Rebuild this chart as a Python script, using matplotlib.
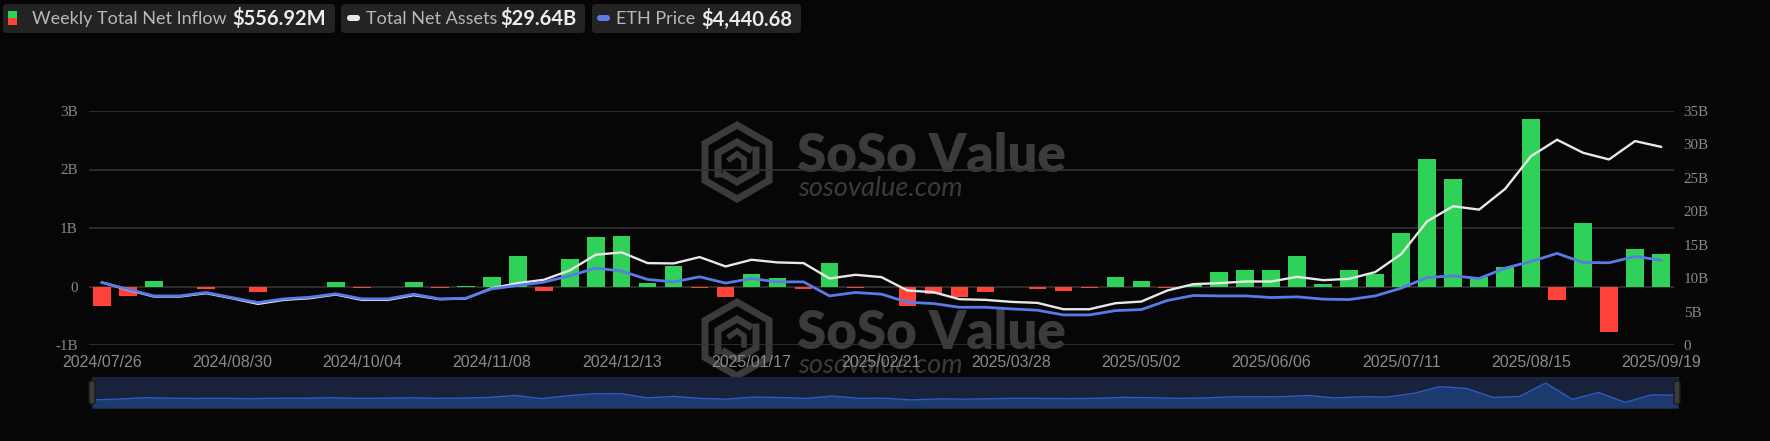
import numpy as np
import pandas as pd
import matplotlib
matplotlib.use("Agg")
import matplotlib.pyplot as plt
from matplotlib.patches import FancyBboxPatch, RegularPolygon


# ======================
# Data
# ======================

dates = pd.date_range("2024-07-26", periods=61, freq="7D")
date_labels = [d.strftime("%Y/%m/%d") for d in dates]

# weekly total net inflow, billions USD
net_inflow = [
    -0.34, -0.17, 0.10, -0.01, -0.045, -0.01, -0.09, -0.01, -0.01, 0.085,
    -0.02, -0.01, 0.08, -0.02, 0.01, 0.154, 0.514, -0.07, 0.463, 0.84,
    0.857, 0.057, 0.35, -0.03, -0.18, 0.21, 0.137, -0.04, 0.41, -0.02,
    -0.005, -0.33, -0.12, -0.18, -0.10, -0.01, -0.04, -0.08, -0.02, 0.154,
    0.10, -0.03, 0.03, 0.246, 0.286, 0.28, 0.526, 0.04, 0.28, 0.217,
    0.909, 2.18, 1.846, 0.154, 0.326, 2.857, -0.234, 1.08, -0.783, 0.634,
    0.557,
]

# total net assets, billions USD
total_net_assets = [
    9.35, 8.25, 7.25, 7.25, 7.75, 7.0, 6.15, 6.75, 7.0, 7.55,
    6.75, 6.75, 7.45, 6.85, 6.95, 8.5, 9.25, 9.75, 11.15, 13.5,
    13.85, 12.25, 12.2, 13.15, 11.75, 12.75, 12.35, 12.25, 9.95, 10.5,
    10.15, 8.15, 7.9, 6.85, 6.75, 6.45, 6.3, 5.35, 5.35, 6.25,
    6.5, 8.15, 9.1, 9.25, 9.5, 9.5, 10.2, 9.7, 9.9, 10.9,
    13.6, 18.5, 20.75, 20.25, 23.35, 28.25, 30.7, 28.75, 27.75, 30.5,
    29.64,
]

# ETH price, USD
eth_price = [
    3270, 2920, 2570, 2570, 2750, 2485, 2220, 2415, 2500, 2680,
    2415, 2415, 2660, 2415, 2450, 2940, 3115, 3290, 3620, 4025,
    3870, 3430, 3305, 3570, 3240, 3480, 3305, 3305, 2570, 2750,
    2660, 2240, 2170, 1975, 1975, 1890, 1820, 1575, 1575, 1800,
    1855, 2330, 2590, 2570, 2570, 2485, 2520, 2400, 2380, 2570,
    2975, 3535, 3620, 3480, 4025, 4375, 4795, 4320, 4305, 4635,
    4440.68,
]

left_ticks = [-1, 0, 1, 2, 3]
left_tick_labels = ["-1B", "0", "1B", "2B", "3B"]
right_ticks = [0, 5, 10, 15, 20, 25, 30, 35]
right_tick_labels = ["0", "5B", "10B", "15B", "20B", "25B", "30B", "35B"]

legend_names = ["Weekly Total Net Inflow", "Total Net Assets", "ETH Price"]
legend_values = ["$556.92M", "$29.64B", "$4,440.68"]


# ======================
# Style
# ======================

BG = "#060606"
GREEN = "#2fd158"
RED = "#ff4338"
WHITE = "#e8e8e8"
BLUE = "#5a7ae6"
GRID = "#333333"
TICK = "#8a8a8a"
MARK = "#3b3b3b"

W, H = 1770, 441


def frac(x0, y0, x1, y1):
    return [x0 / W, 1 - y1 / H, (x1 - x0) / W, (y1 - y0) / H]


fig = plt.figure(figsize=(W / 100, H / 100), dpi=100, facecolor=BG)

# background layer: legend chips and watermark
bg = fig.add_axes([0, 0, 1, 1], zorder=0)
bg.set_xlim(0, W)
bg.set_ylim(H, 0)
bg.axis("off")


def watermark(cx, cy):
    bg.add_patch(RegularPolygon((cx, cy), 6, radius=37, fill=False,
                                ec=MARK, lw=5))
    bg.plot([cx - 19, cx - 19, cx, cx + 12], [cy + 12, cy - 9, cy - 20, cy - 13],
            color=MARK, lw=5, solid_joinstyle="miter")
    bg.plot([cx + 19, cx + 19, cx, cx - 12], [cy - 12, cy + 9, cy + 20, cy + 13],
            color=MARK, lw=5, solid_joinstyle="miter")
    bg.plot([cx - 7, cx, cx + 7, cx + 7], [cy - 3, cy - 8, cy - 3, cy + 6],
            color=MARK, lw=4, solid_joinstyle="miter")
    bg.text(cx + 60, cy + 10, "SoSo Value", family="Lato", weight="heavy",
            fontsize=38, color=MARK, va="baseline", ha="left")
    bg.text(cx + 61, cy + 34, "sosovalue.com", family="Lato", style="italic",
            fontsize=19.5, color=MARK, va="baseline", ha="left")


watermark(737, 162)
watermark(737, 339)

# legend chips
chip_x = [(3, 335), (341, 585), (592, 801)]
name_x = [32, 366, 616]
value_x = [232, 500, 701]
for (x0, x1), nx, vx, name, val in zip(chip_x, name_x, value_x,
                                      legend_names, legend_values):
    bg.add_patch(FancyBboxPatch((x0, 4), x1 - x0, 29,
                                boxstyle="round,pad=0,rounding_size=4",
                                fc="#232323", ec="none"))
    bg.text(nx, 19, name, family="Lato", fontsize=13, color="#b8b8b8",
            va="center", ha="left")
    bg.text(vx, 19, val, family="Lato", weight="bold", fontsize=14.5,
            color="#ececec", va="center", ha="left")

bg.add_patch(plt.Rectangle((8, 11), 9, 7, fc=GREEN, ec="none"))
bg.add_patch(plt.Rectangle((8, 18), 9, 7, fc=RED, ec="none"))
bg.add_patch(FancyBboxPatch((347, 15), 13, 6, boxstyle="round,pad=0,rounding_size=3",
                            fc=WHITE, ec="none"))
bg.add_patch(FancyBboxPatch((597, 15), 13, 6, boxstyle="round,pad=0,rounding_size=3",
                            fc=BLUE, ec="none"))


# ======================
# Main chart
# ======================

x = np.arange(len(dates))

ax = fig.add_axes(frac(89, 111, 1674, 345), zorder=1)
ax.patch.set_alpha(0)
bar_colors = [GREEN if v >= 0 else RED for v in net_inflow]
ax.bar(x, net_inflow, width=0.68, color=bar_colors, zorder=3)
ax.set_xlim(-0.5, len(dates) - 0.5)
ax.set_ylim(-1, 3)
ax.set_yticks(left_ticks, left_tick_labels, family="Liberation Serif",
              fontsize=10.8)
ax.set_xticks(x[::5], [date_labels[i] for i in x[::5]],
              family="Liberation Sans", fontsize=11.5)
ax.grid(axis="y", color=GRID, lw=1.2)
ax.set_axisbelow(True)
ax.tick_params(axis="both", length=0, colors=TICK)
ax.tick_params(axis="y", pad=8)
ax.tick_params(axis="x", pad=7)
for s in ax.spines.values():
    s.set_visible(False)

ax2 = ax.twinx()
ax2.plot(x, total_net_assets, color=WHITE, lw=1.7, zorder=4)
ax2.set_ylim(0, 35)
ax2.set_yticks(right_ticks, right_tick_labels, family="Liberation Serif",
               fontsize=10.8)
ax2.tick_params(axis="y", length=0, colors=TICK, pad=7)
for s in ax2.spines.values():
    s.set_visible(False)

ax3 = ax.twinx()
ax3.plot(x, eth_price, color=BLUE, lw=2.0, zorder=5)
ax3.set_ylim(0, 12250)
ax3.axis("off")


# ======================
# Navigator
# ======================

nav = fig.add_axes(frac(92, 377, 1678, 408), zorder=2)
nav.set_facecolor("#18223a")
nav.fill_between(x, net_inflow, -1.85, color="#1d3a6e", lw=0)
nav.plot(x, net_inflow, color="#2c5cc2", lw=1)
nav.set_xlim(0, len(dates) - 1)
nav.set_ylim(-1.85, 4.0)
nav.set_xticks([])
nav.set_yticks([])
for s in nav.spines.values():
    s.set_color("#1c2740")

top = fig.add_axes([0, 0, 1, 1], zorder=5)
top.set_xlim(0, W)
top.set_ylim(H, 0)
top.axis("off")
for hx in (89, 1674):
    top.add_patch(FancyBboxPatch((hx, 381), 6, 23,
                                 boxstyle="round,pad=0,rounding_size=2",
                                 fc="#3c3c3c", ec="#1a1a1a", lw=1))

fig.savefig("out.png", dpi=100, facecolor=BG)
